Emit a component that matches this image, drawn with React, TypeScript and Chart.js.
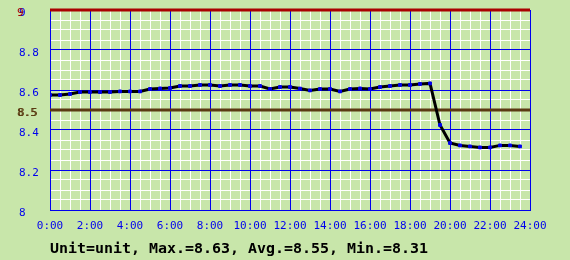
import React, { useEffect, useRef } from "react";
import { Chart, registerables } from "chart.js";

Chart.register(...registerables);

// ---- data ----
const TIMES = [
  "0:00", "0:30", "1:00", "1:30", "2:00", "2:30", "3:00", "3:30",
  "4:00", "4:30", "5:00", "5:30", "6:00", "6:30", "7:00", "7:30",
  "8:00", "8:30", "9:00", "9:30", "10:00", "10:30", "11:00", "11:30",
  "12:00", "12:30", "13:00", "13:30", "14:00", "14:30", "15:00", "15:30",
  "16:00", "16:30", "17:00", "17:30", "18:00", "18:30", "19:00", "19:30",
  "20:00", "20:30", "21:00", "21:30", "22:00", "22:30", "23:00", "23:30",
];

const VALUES = [
  8.575, 8.575, 8.58, 8.59, 8.59, 8.59, 8.59, 8.593,
  8.593, 8.593, 8.605, 8.608, 8.61, 8.62, 8.62, 8.625,
  8.625, 8.62, 8.625, 8.625, 8.62, 8.62, 8.605, 8.615,
  8.615, 8.607, 8.598, 8.605, 8.605, 8.593, 8.605, 8.608,
  8.605, 8.615, 8.62, 8.625, 8.625, 8.63, 8.633, 8.425,
  8.335, 8.323, 8.318, 8.313, 8.313, 8.323, 8.323, 8.318,
];

const X_TICK_LABELS = [
  "0:00", "2:00", "4:00", "6:00", "8:00", "10:00", "12:00",
  "14:00", "16:00", "18:00", "20:00", "22:00", "24:00",
];
const Y_TICK_LABELS = ["8", "8.2", "8.4", "8.6", "8.8", "9"];

const LIMIT_HIGH = 9;
const LIMIT_HIGH_LABEL = "9";
const LIMIT_LOW = 8.5;
const LIMIT_LOW_LABEL = "8.5";

const UNIT = "unit";
const MAX_TEXT = "8.63";
const AVG_TEXT = "8.55";
const MIN_TEXT = "8.31";

// ---- style ----
const BG = "rgb(200,230,170)";
const BLUE = "#0000ee";
const WHITE = "#ffffff";
const RED = "#aa0000";
const BROWN = "#5a3a12";
const MONO = "'DejaVu Sans Mono', monospace";

const toHours = (t: string) => {
  const [h, m] = t.split(":").map(Number);
  return h + m / 60;
};

const overlayPlugin = {
  id: "overlay",
  beforeDraw(chart: any) {
    const { ctx, width, height } = chart;
    ctx.save();
    ctx.fillStyle = BG;
    ctx.fillRect(0, 0, width, height);
    ctx.restore();
  },
  afterDraw(chart: any) {
    const { ctx } = chart;
    const ys = chart.scales.y;
    const xs = chart.scales.x;
    ctx.save();
    ctx.font = `11px ${MONO}`;
    ctx.textAlign = "left";
    ctx.textBaseline = "middle";
    ctx.fillStyle = RED;
    ctx.fillText(LIMIT_HIGH_LABEL, 17, ys.getPixelForValue(LIMIT_HIGH) + 3);
    ctx.fillStyle = BROWN;
    const yl = ys.getPixelForValue(LIMIT_LOW) + 3;
    ctx.fillText(LIMIT_LOW_LABEL, 17, yl);
    ctx.fillText(LIMIT_LOW_LABEL, 18, yl);
    // summary line
    ctx.font = `bold 14px ${MONO}`;
    ctx.fillStyle = "#000";
    ctx.textBaseline = "alphabetic";
    ctx.translate(xs.left, 253);
    ctx.scale(1.068, 1);
    ctx.fillText(
      `Unit=${UNIT}, Max.=${MAX_TEXT}, Avg.=${AVG_TEXT}, Min.=${MIN_TEXT}`,
      0,
      0
    );
    ctx.restore();
  },
};

export default function App() {
  const ref = useRef<HTMLCanvasElement>(null);

  useEffect(() => {
    document.body.style.margin = "0";
    const tickFont = { family: MONO, size: 11 };
    const chart = new Chart(ref.current as HTMLCanvasElement, {
      type: "line",
      data: {
        datasets: [
          {
            label: "value",
            data: TIMES.map((t, i) => ({ x: toHours(t), y: VALUES[i] })),
            borderColor: "#000000",
            borderWidth: 3,
            tension: 0,
            pointStyle: "rect",
            pointRadius: 2,
            pointBackgroundColor: BLUE,
            pointBorderColor: BLUE,
            pointBorderWidth: 1,
            order: 0,
          },
          {
            label: "high",
            data: [{ x: 0, y: LIMIT_HIGH }, { x: 24, y: LIMIT_HIGH }],
            borderColor: RED,
            borderWidth: 3,
            pointRadius: 0,
            clip: 4,
            order: 1,
          },
          {
            label: "low",
            data: [{ x: 0, y: LIMIT_LOW }, { x: 24, y: LIMIT_LOW }],
            borderColor: BROWN,
            borderWidth: 3,
            pointRadius: 0,
            order: 1,
          },
        ] as any,
      },
      options: {
        responsive: false,
        animation: false,
        devicePixelRatio: 1,
        events: [],
        layout: { padding: { left: 19, top: 10, right: 40, bottom: 0 } },
        plugins: {
          legend: { display: false },
          tooltip: { enabled: false },
          title: { display: false },
        },
        scales: {
          x2: {
            type: "linear",
            min: 0,
            max: 24,
            position: "bottom",
            ticks: { display: false, stepSize: 0.5, autoSkip: false, maxTicksLimit: 200 },
            grid: { color: WHITE, lineWidth: 1, drawTicks: false, z: -2 },
            border: { display: false },
            afterFit: (s: any) => {
              s.height = 0;
            },
          },
          y2: {
            type: "linear",
            min: 8,
            max: 9,
            position: "left",
            ticks: { display: false, stepSize: 0.05, autoSkip: false, maxTicksLimit: 200 },
            grid: { color: WHITE, lineWidth: 1, drawTicks: false, z: -2 },
            border: { display: false },
            afterFit: (s: any) => {
              s.width = 0;
            },
          },
          x: {
            type: "linear",
            min: 0,
            max: 24,
            position: "bottom",
            ticks: {
              stepSize: 2,
              autoSkip: false,
              maxTicksLimit: 200,
              maxRotation: 0,
              minRotation: 0,
              color: BLUE,
              font: tickFont,
              padding: 10,
              callback: (_v: any, i: number) => X_TICK_LABELS[i] ?? "",
            },
            grid: { color: BLUE, lineWidth: 1, drawTicks: false, z: -1 },
            border: { display: true, color: BLUE, width: 1 },
            afterFit: (s: any) => {
              s.height = 50;
            },
          },
          y: {
            type: "linear",
            min: 8,
            max: 9,
            position: "left",
            ticks: {
              stepSize: 0.2,
              autoSkip: false,
              maxTicksLimit: 200,
              color: BLUE,
              font: tickFont,
              crossAlign: "far",
              labelOffset: 3,
              callback: (_v: any, i: number) => Y_TICK_LABELS[i] ?? "",
            },
            grid: { color: BLUE, lineWidth: 1, drawTicks: false, z: -1 },
            border: { display: true, color: BLUE, width: 1 },
            afterFit: (s: any) => {
              s.width = 31;
            },
          },
        },
      } as any,
      plugins: [overlayPlugin],
    });
    return () => chart.destroy();
  }, []);

  return (
    <div style={{ position: "absolute", left: 0, top: 0, width: 570, height: 260, background: BG }}>
      <canvas ref={ref} width={570} height={260} style={{ display: "block" }} />
    </div>
  );
}
